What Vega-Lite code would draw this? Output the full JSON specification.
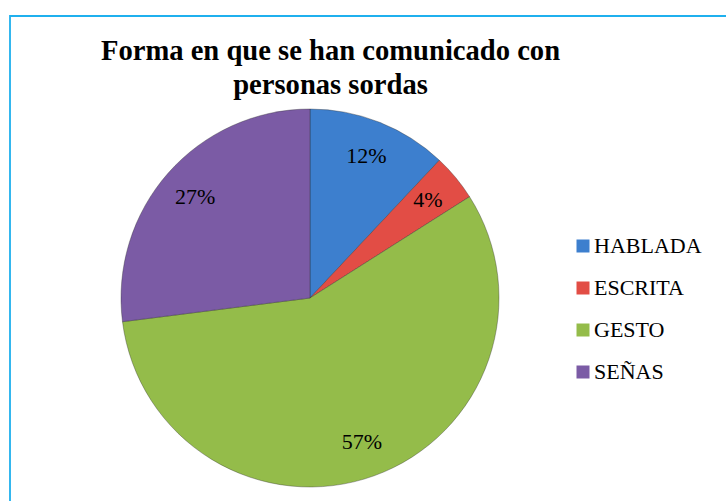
{
  "$schema": "https://vega.github.io/schema/vega-lite/v6.json",
  "autosize": {"type": "none"},
  "width": 719,
  "height": 488,
  "padding": {"left": 10, "top": 16, "right": -3, "bottom": -3},
  "background": "white",
  "config": {
    "view": {"stroke": "#1FB0EE", "strokeWidth": 1.8},
    "font": "Liberation Serif",
    "title": {"font": "Liberation Serif"},
    "legend": {"labelFont": "Liberation Serif"},
    "text": {"font": "Liberation Serif"}
  },
  "title": {
    "text": ["Forma en que se han comunicado con", "personas sordas"],
    "font": "Liberation Serif",
    "fontSize": 28.6,
    "fontWeight": "bold",
    "color": "black",
    "lineHeight": 34,
    "anchor": "middle",
    "frame": "group",
    "baseline": "alphabetic",
    "offset": 0,
    "dx": -39,
    "dy": 107
  },
  "data": {
    "values": [
      {"forma": "HABLADA", "porcentaje": 12, "etiqueta": "12%", "orden": 1},
      {"forma": "ESCRITA", "porcentaje": 4, "etiqueta": "4%", "orden": 2},
      {"forma": "GESTO", "porcentaje": 57, "etiqueta": "57%", "orden": 3},
      {"forma": "SEÑAS", "porcentaje": 27, "etiqueta": "27%", "orden": 4}
    ]
  },
  "encoding": {
    "theta": {"field": "porcentaje", "type": "quantitative", "stack": true},
    "order": {"field": "orden", "type": "quantitative"},
    "x": {"value": 300},
    "y": {"value": 282}
  },
  "layer": [
    {
      "mark": {"type": "arc", "outerRadius": 189, "stroke": "#2a2a2a", "strokeWidth": 0.6, "strokeOpacity": 0.6},
      "encoding": {
        "color": {
          "field": "forma",
          "type": "nominal",
          "sort": ["HABLADA", "ESCRITA", "GESTO", "SEÑAS"],
          "scale": {
            "domain": ["HABLADA", "ESCRITA", "GESTO", "SEÑAS"],
            "range": ["#3D7FCE", "#E24D45", "#94BC4A", "#7B5BA5"]
          },
          "legend": {
            "title": null,
            "orient": "none",
            "legendX": 562,
            "legendY": 219,
            "padding": 0,
            "symbolType": "square",
            "symbolSize": 169,
            "symbolStrokeWidth": 0,
            "labelFont": "Liberation Serif",
            "labelFontSize": 22,
            "labelColor": "black",
            "labelOffset": 0,
            "rowPadding": 20,
            "labelLimit": 300
          }
        }
      }
    },
    {
      "mark": {"type": "text", "radius": 153, "font": "Liberation Serif", "fontSize": 22, "color": "black", "baseline": "middle", "align": "center"},
      "encoding": {
        "text": {"field": "etiqueta", "type": "nominal"}
      }
    }
  ]
}
